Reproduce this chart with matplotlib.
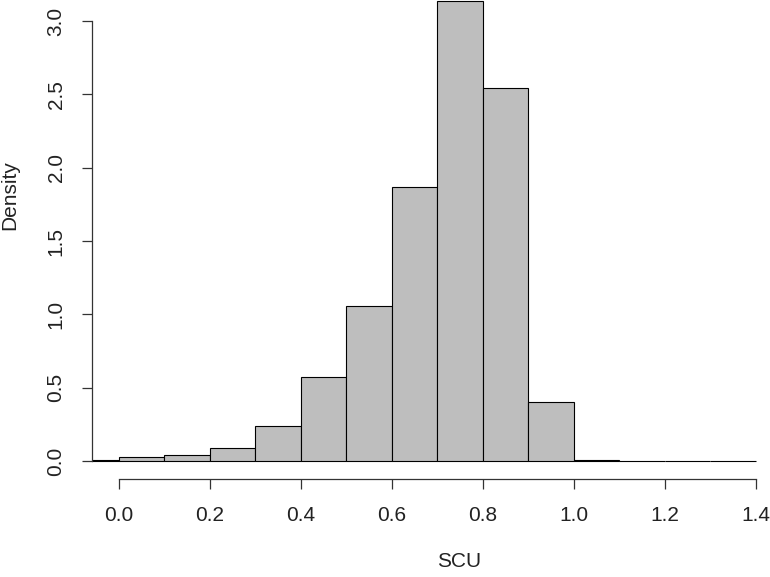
import numpy as np
import matplotlib
matplotlib.use("Agg")
import matplotlib.pyplot as plt

plt.rcParams["font.family"] = ["Liberation Sans", "DejaVu Sans"]

# histogram of SCU (density scale), bins of width 0.1
bin_edges = [-0.1, 0.0, 0.1, 0.2, 0.3, 0.4, 0.5, 0.6, 0.7, 0.8, 0.9, 1.0, 1.1, 1.2, 1.3, 1.4]
densities = [0.01, 0.027, 0.039, 0.09, 0.24, 0.57, 1.06, 1.87, 3.136, 2.545, 0.40, 0.007, 0.0, 0.0, 0.0]
x_ticks = [0.0, 0.2, 0.4, 0.6, 0.8, 1.0, 1.2, 1.4]
y_ticks = [0.0, 0.5, 1.0, 1.5, 2.0, 2.5, 3.0]

fig = plt.figure(figsize=(7.7, 5.77), dpi=100)
# plot region runs off the top/right of the image like the cropped original
ax = fig.add_axes([0.1197, 0.169, 0.895, 0.862])

left = np.array(bin_edges[:-1])
widths = np.diff(bin_edges)
ax.bar(left, densities, width=widths, align="edge",
       color="#bebebe", edgecolor="black", linewidth=0.8)

ax.set_xlim(-0.059, 1.456)
ax.set_ylim(-0.1256, 3.2656)

for s in ["top", "right"]:
    ax.spines[s].set_visible(False)
ax.spines["left"].set_bounds(0, 3)
ax.spines["bottom"].set_bounds(0, 1.4)
for s in ["left", "bottom"]:
    ax.spines[s].set_color("#333333")
    ax.spines[s].set_linewidth(0.9)

ax.set_xticks(x_ticks)
ax.set_xticklabels([f"{v:.1f}" for v in x_ticks])
ax.set_yticks(y_ticks)
ax.set_yticklabels([f"{v:.1f}" for v in y_ticks], rotation=90, va="center")
ax.tick_params(axis="both", length=7.2, width=0.9, color="#333333",
               labelsize=15, labelcolor="#222222")
ax.tick_params(axis="x", pad=12)
ax.tick_params(axis="y", pad=12)

ax.set_xlabel("SCU", fontsize=15, color="#222222")
ax.xaxis.set_label_coords(0.532, -0.145)
ax.set_ylabel("Density", fontsize=15, color="#222222")
ax.yaxis.set_label_coords(-0.106, 0.572)

fig.savefig("out.png", dpi=100)
